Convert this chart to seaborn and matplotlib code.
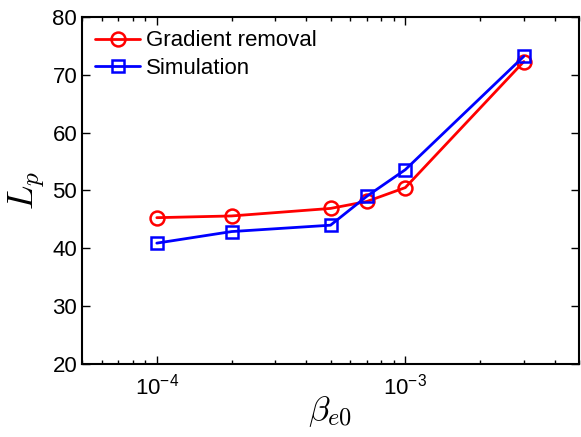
import numpy as np
import pandas as pd
import matplotlib
matplotlib.use('Agg')
import matplotlib.pyplot as plt
import seaborn as sns

# data
beta = [1e-4, 2e-4, 5e-4, 7e-4, 1e-3, 3e-3]
lp_gradient = [45.3, 45.6, 46.9, 48.1, 50.5, 72.3]
lp_simulation = [40.9, 42.9, 44.0, 49.0, 53.6, 73.2]
series_names = ['Gradient removal', 'Simulation']
xtick_vals = [1e-4, 1e-3]
xtick_labels = [r'$\mathsf{10^{-4}}$', r'$\mathsf{10^{-3}}$']

df = pd.DataFrame({
    'beta': beta * 2,
    'Lp': lp_gradient + lp_simulation,
    'series': [series_names[0]] * len(beta) + [series_names[1]] * len(beta),
})

sns.set_style('ticks')
plt.rcParams['font.family'] = ['Liberation Sans', 'DejaVu Sans']
plt.rcParams['mathtext.fontset'] = 'custom'
plt.rcParams['mathtext.rm'] = 'cmr10'
plt.rcParams['mathtext.it'] = 'cmmi10'
plt.rcParams['mathtext.sf'] = 'Liberation Sans'
plt.rcParams['mathtext.fallback'] = 'cm'
plt.rcParams['text.color'] = 'black'
plt.rcParams['xtick.color'] = 'black'
plt.rcParams['ytick.color'] = 'black'
plt.rcParams['axes.labelcolor'] = 'black'
plt.rcParams['axes.edgecolor'] = 'black'

fig = plt.figure(figsize=(5.81, 4.37), dpi=100)
ax = fig.add_axes([82 / 581, 1 - 364 / 437, (579 - 82) / 581, (364 - 17) / 437])

colors = {series_names[0]: '#ff0000', series_names[1]: '#0000ff'}
sns.lineplot(data=df, x='beta', y='Lp', hue='series', style='series',
             palette=colors,
             markers={series_names[0]: 'o', series_names[1]: 's'},
             dashes=False, linewidth=2, ax=ax)

# open markers in the line colour
for line in ax.get_lines():
    line.set_markerfacecolor('none')
    line.set_markeredgecolor(line.get_color())
    line.set_markeredgewidth(1.8)
    line.set_markersize(10 if line.get_marker() == 'o' else 8)

ax.set_xscale('log')
ax.set_xlim(5e-5, 5e-3)
ax.set_ylim(20, 80)
ax.set_yticks([20, 30, 40, 50, 60, 70, 80])
ax.set_xticks(xtick_vals)
ax.set_xticklabels(xtick_labels)
ax.tick_params(which='both', direction='in', top=True, right=True, labelsize=16, width=1)
ax.tick_params(which='major', length=6)
ax.tick_params(which='minor', length=3)
ax.tick_params(axis='x', which='major', pad=7)
for s in ax.spines.values():
    s.set_linewidth(1.5)

ax.set_xlabel(r'$\beta_{e0}$', fontsize=25, labelpad=-4)
ax.set_ylabel(r'$L_p$', fontsize=26, labelpad=4)

leg = ax.legend(loc='upper left', frameon=False, fontsize=16, handlelength=2.0,
                handletextpad=0.3, borderaxespad=0.2, labelspacing=0.3)
for h in leg.legend_handles:
    h.set_markerfacecolor('none')
    h.set_markeredgecolor(h.get_color())
    h.set_markeredgewidth(1.8)
    h.set_linewidth(2)

fig.savefig('out.png', dpi=100)
